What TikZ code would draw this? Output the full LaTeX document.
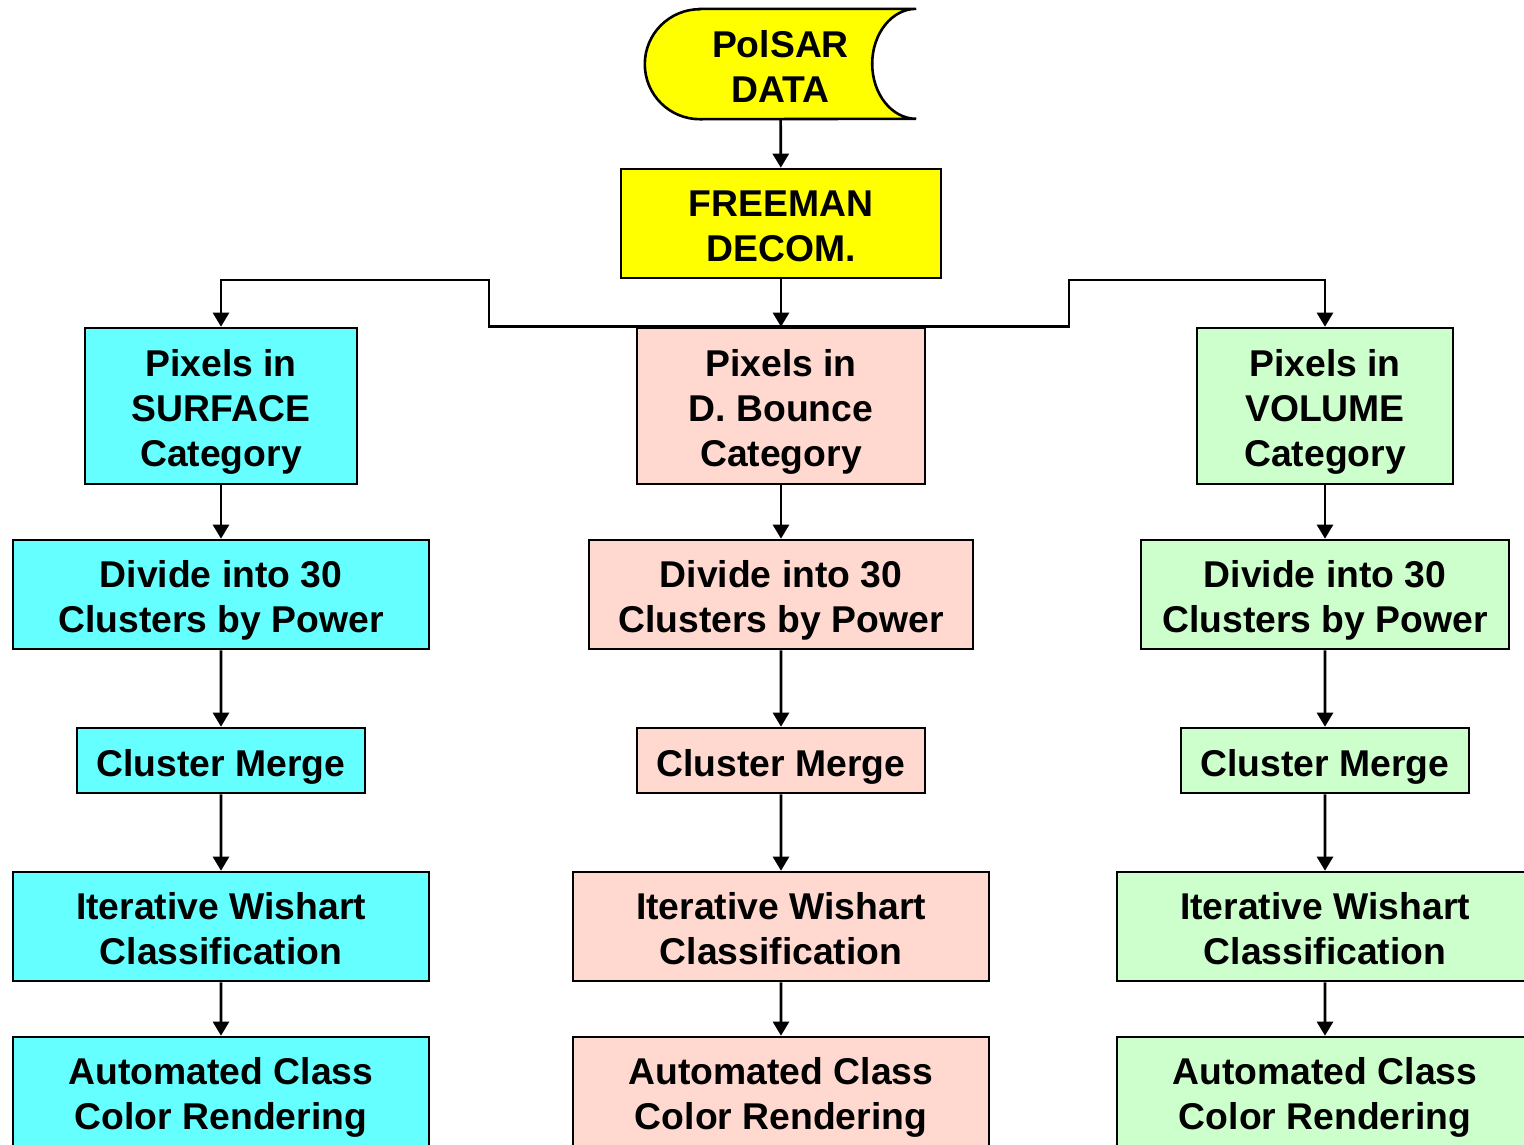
\documentclass[tikz,border=0pt]{standalone}
\usepackage{fontspec}
\setmainfont{Liberation Sans}
\usetikzlibrary{trees,arrows.meta}

\definecolor{datacol}{HTML}{FFFF00}
\definecolor{surfcol}{HTML}{66FFFF}
\definecolor{dblcol}{HTML}{FFD9CF}
\definecolor{volcol}{HTML}{CCFFCC}

\newcommand\boxfont{\fontsize{37.3}{45}\selectfont\bfseries}

\tikzset{
  link/.style={draw, line width=2.6pt, -{Triangle[length=14pt,width=16pt]}},
  % fixed ascent/descent for a block of \boxlines lines, so the text sits like in a text frame
  lines/.store in=\boxlines, lines=2,
  boxtext/.style={align=center, inner sep=0pt, font=\boxfont,
    execute at begin node={\rule[-8pt]{0pt}{\dimexpr45pt*\boxlines+2pt\relax}}},
  box/.style={draw, line width=2.6pt, boxtext},
  pixbox/.style={box, minimum height=156pt, lines=3},
  widebox/.style={box, minimum width=416pt, minimum height=109pt, lines=2},
  mergebox/.style={box, minimum width=288pt, minimum height=65pt, lines=1},
}

\begin{document}
\begin{tikzpicture}[x=1pt, y=-1pt, grow=down,
  level 1/.style={level distance=188.5pt},
  level 2/.style={level distance=166pt},
  level 3/.style={level distance=166pt},
  level 4/.style={level distance=165pt},
  edge from parent/.style={link},
  edge from parent path={(\tikzparentnode.south) -- (\tikzchildnode.north)}]
\useasboundingbox (0,0) rectangle (1524,1144);
\clip (0,0) rectangle (1524,1144);

% input data and decomposition
\node[minimum width=271pt, minimum height=110pt, inner sep=0pt] (data) at (780.5,64) {};
\draw[line width=2.6pt, fill=datacol] ([xshift=55pt]data.north west) -- (data.north east)
  arc[start angle=90, end angle=270, x radius=44pt, y radius=55pt]
  -- ([xshift=55pt]data.south west)
  arc[start angle=270, end angle=90, radius=55pt] -- cycle;
\node[boxtext, lines=2] at (data) {PolSAR\\DATA};
\node[box, fill=datacol, minimum width=320pt, minimum height=109pt, lines=2] (freeman) at (781,223.5) {FREEMAN\\DECOM.};

% surface branch
\begin{scope}[every node/.append style={fill=surfcol}]
\node[pixbox, minimum width=272pt] (lpix) at (221,406) {Pixels in\\SURFACE\\Category}
    child { node[widebox] (ldiv) {Divide into 30\\Clusters by Power}
        child { node[mergebox] (lmerge) {Cluster Merge}
            child { node[widebox] (lwish) {Iterative Wishart\\Classification}
                child { node[widebox] (lauto) {Automated Class\\Color Rendering}
                    }
                }
            }
        };
\end{scope}

% double bounce branch
\begin{scope}[every node/.append style={fill=dblcol}]
\node[pixbox, minimum width=288pt] (mpix) at (781,406) {Pixels in\\D. Bounce\\Category}
    child { node[widebox, minimum width=384pt] (mdiv) {Divide into 30\\Clusters by Power}
        child { node[mergebox] (mmerge) {Cluster Merge}
            child { node[widebox] (mwish) {Iterative Wishart\\Classification}
                child { node[widebox] (mauto) {Automated Class\\Color Rendering}
                    }
                }
            }
        };
\end{scope}

% volume branch
\begin{scope}[every node/.append style={fill=volcol}]
\node[pixbox, minimum width=256pt] (rpix) at (1325,406) {Pixels in\\VOLUME\\Category}
    child { node[widebox, minimum width=368pt] (rdiv) {Divide into 30\\Clusters by Power}
        child { node[mergebox] (rmerge) {Cluster Merge}
            child { node[widebox] (rwish) {Iterative Wishart\\Classification}
                child { node[widebox] (rauto) {Automated Class\\Color Rendering}
                    }
                }
            }
        };
\end{scope}

% top links
\coordinate (ljog) at (489,280);
\coordinate (rjog) at (1069,280);
\draw[link] (data) -- (freeman);
\draw[link] (freeman) -- (mpix);
\draw[link] (mpix.north) -| (ljog) -| (lpix.north);
\draw[link] (mpix.north) -| (rjog) -| (rpix.north);
\end{tikzpicture}
\end{document}
